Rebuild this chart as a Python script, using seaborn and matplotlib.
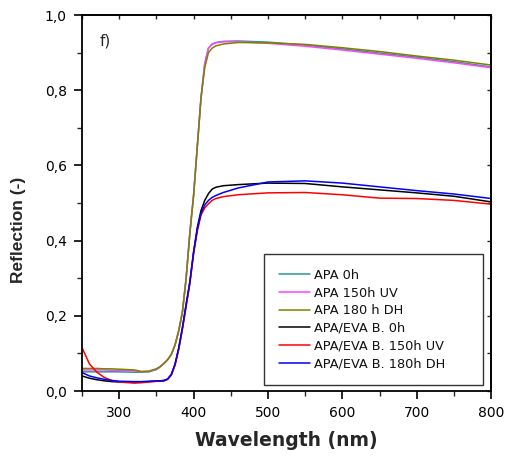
import numpy as np
import pandas as pd
import matplotlib
matplotlib.use("Agg")
import matplotlib.pyplot as plt
from matplotlib.ticker import FuncFormatter, MultipleLocator
import seaborn as sns

wavelength = [250, 260, 270, 280, 290, 300, 320, 330, 340, 350, 355, 360, 365, 370, 375,
              380, 385, 390, 395, 400, 405, 410, 415, 420, 425, 430, 440, 460, 500,
              550, 600, 650, 700, 750, 800]

apa_0h = [0.051, 0.051, 0.051, 0.051, 0.051, 0.051, 0.050, 0.050, 0.051, 0.057, 0.064, 0.073, 0.083,
          0.097, 0.122, 0.160, 0.210, 0.300, 0.420, 0.520, 0.650, 0.780, 0.870, 0.912, 0.923,
          0.927, 0.930, 0.931, 0.928, 0.920, 0.910, 0.899, 0.888, 0.876, 0.862]
apa_150h_uv = [0.056, 0.056, 0.056, 0.056, 0.055, 0.055, 0.054, 0.051, 0.052, 0.058, 0.064, 0.073, 0.083,
               0.097, 0.122, 0.160, 0.210, 0.300, 0.420, 0.520, 0.650, 0.780, 0.870, 0.912, 0.922,
               0.926, 0.929, 0.929, 0.925, 0.917, 0.907, 0.896, 0.885, 0.873, 0.860]
apa_180h_dh = [0.060, 0.060, 0.060, 0.059, 0.059, 0.058, 0.056, 0.052, 0.053, 0.059, 0.065, 0.073, 0.083,
               0.097, 0.122, 0.160, 0.210, 0.300, 0.420, 0.520, 0.650, 0.780, 0.860, 0.900, 0.912,
               0.918, 0.923, 0.927, 0.926, 0.922, 0.913, 0.903, 0.891, 0.880, 0.867]
eva_0h = [0.040, 0.034, 0.030, 0.027, 0.025, 0.024, 0.024, 0.024, 0.025, 0.026, 0.026, 0.027, 0.031,
          0.043, 0.070, 0.113, 0.168, 0.230, 0.290, 0.370, 0.435, 0.480, 0.507, 0.525, 0.537,
          0.542, 0.546, 0.549, 0.553, 0.552, 0.543, 0.535, 0.527, 0.518, 0.503]
eva_150h_uv = [0.115, 0.072, 0.050, 0.036, 0.028, 0.024, 0.021, 0.022, 0.024, 0.026, 0.027, 0.028, 0.031,
               0.042, 0.068, 0.110, 0.164, 0.225, 0.285, 0.365, 0.425, 0.468, 0.487, 0.498, 0.507,
               0.512, 0.517, 0.522, 0.527, 0.528, 0.522, 0.513, 0.512, 0.507, 0.497]
eva_180h_dh = [0.049, 0.040, 0.035, 0.031, 0.028, 0.026, 0.025, 0.025, 0.026, 0.027, 0.027, 0.028, 0.032,
               0.044, 0.071, 0.114, 0.168, 0.230, 0.290, 0.368, 0.430, 0.473, 0.495, 0.507, 0.515,
               0.520, 0.528, 0.540, 0.556, 0.559, 0.553, 0.543, 0.533, 0.524, 0.512]

series_names = ["APA 0h", "APA 150h UV", "APA 180 h DH", "APA/EVA B. 0h",
                "APA/EVA B. 150h UV", "APA/EVA B. 180h DH"]
series_values = [apa_0h, apa_150h_uv, apa_180h_dh, eva_0h, eva_150h_uv, eva_180h_dh]
colors = ["#2a9a8c", "#ff44ff", "#808000", "#000000", "#ff0000", "#0000ff"]

df = pd.concat([pd.DataFrame({"Wavelength": wavelength, "Reflection": v, "Sample": n})
                for n, v in zip(series_names, series_values)], ignore_index=True)

sns.set_theme(style="ticks")
plt.rcParams["font.family"] = ["DejaVu Sans"]

fig = plt.figure(figsize=(5.11, 4.63), dpi=100)
ax = fig.add_axes([0.1605, 0.1555, 0.8005, 0.812])

sns.lineplot(data=df, x="Wavelength", y="Reflection", hue="Sample",
             hue_order=series_names, palette=dict(zip(series_names, colors)),
             linewidth=1.1, ax=ax, sort=False)

ax.set_xlim(250, 800)
ax.set_ylim(0, 1.0)
comma = FuncFormatter(lambda v, p: f"{v:.1f}".replace(".", ","))
ax.yaxis.set_major_formatter(comma)
ax.xaxis.set_major_locator(MultipleLocator(100))
ax.xaxis.set_minor_locator(MultipleLocator(50))
ax.yaxis.set_major_locator(MultipleLocator(0.2))
ax.yaxis.set_minor_locator(MultipleLocator(0.1))
ax.tick_params(which="major", direction="out", length=6, width=1.2, labelsize=10,
               colors="black", pad=5)
ax.tick_params(which="minor", direction="out", length=3.5, width=1.0)
for s in ax.spines.values():
    s.set_linewidth(1.3)
    s.set_color("black")
    s.set_visible(True)

top = ax.secondary_xaxis("top")
top.xaxis.set_major_locator(MultipleLocator(50))
top.tick_params(direction="in", length=3, width=1.0, labeltop=False)
right = ax.secondary_yaxis("right")
right.yaxis.set_major_locator(MultipleLocator(0.1))
right.tick_params(direction="in", length=3, width=1.0, labelright=False)

ax.set_xlabel("Wavelength (nm)", fontsize=13.5, fontweight="bold", labelpad=8)
ax.set_ylabel("Reflection (-)", fontsize=12.5, fontweight="bold",
              family=["Liberation Sans", "DejaVu Sans"])
ax.yaxis.set_label_coords(-0.137, 0.4295)
ax.text(274, 0.93, "f)", fontsize=11, ha="left", va="center")

leg = ax.legend(loc="lower left", bbox_to_anchor=(0.445, 0.016, 0.535, 0.348),
                mode="expand", fontsize=9.3, frameon=True, fancybox=False,
                edgecolor="black", borderpad=1.15, labelspacing=0.36,
                borderaxespad=0, handlelength=2.4, handletextpad=0.35, title=None)
leg.get_frame().set_linewidth(1.0)
for t in leg.get_texts():
    t.set_color("#111111")

fig.savefig("out.png", dpi=100)
